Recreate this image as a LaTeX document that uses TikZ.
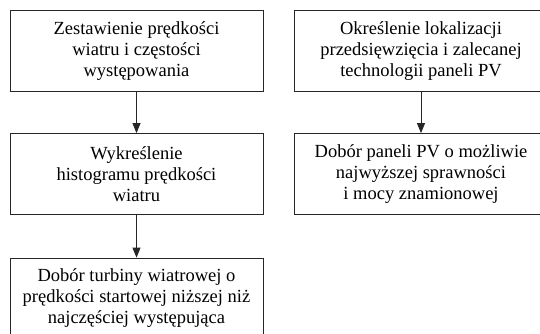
\documentclass[tikz,border=0pt]{standalone}
\usepackage{fontspec}
\setmainfont{Liberation Serif}
\usetikzlibrary{arrows.meta}
\tikzset{
  stepbox/.style={draw=black!85, line width=0.8pt, align=center, inner sep=0pt,
    minimum width=253pt, minimum height=81pt,
    font=\fontsize{18.5}{21}\selectfont},
  flowarrow/.style={draw=black!85, line width=0.8pt, -{Triangle[length=10pt,width=8pt]}}
}
\begin{document}
\begin{tikzpicture}[x=1pt,y=-1pt]
\clip (0,0) rectangle (540,334);
\node[stepbox] (a) at (136.5,51.3) {Zestawienie prędkości\\wiatru i częstości\\występowania};
\node[stepbox] (b) at (136.5,174) {Wykreślenie\\histogramu prędkości\\wiatru};
\node[stepbox] (c) at (136.5,298.5) {Dobór turbiny wiatrowej o\\prędkości startowej niższej niż\\najczęściej występująca};
\node[stepbox] (d) at (421,51.3) {Określenie lokalizacji\\przedsięwzięcia i zalecanej\\technologii paneli PV};
\node[stepbox] (e) at (421,174) {Dobór paneli PV o możliwie\\najwyższej sprawności\\i mocy znamionowej};
\draw[flowarrow] (a) -- (b);
\draw[flowarrow] (b) -- (c);
\draw[flowarrow] (d) -- (e);
\end{tikzpicture}
\end{document}
